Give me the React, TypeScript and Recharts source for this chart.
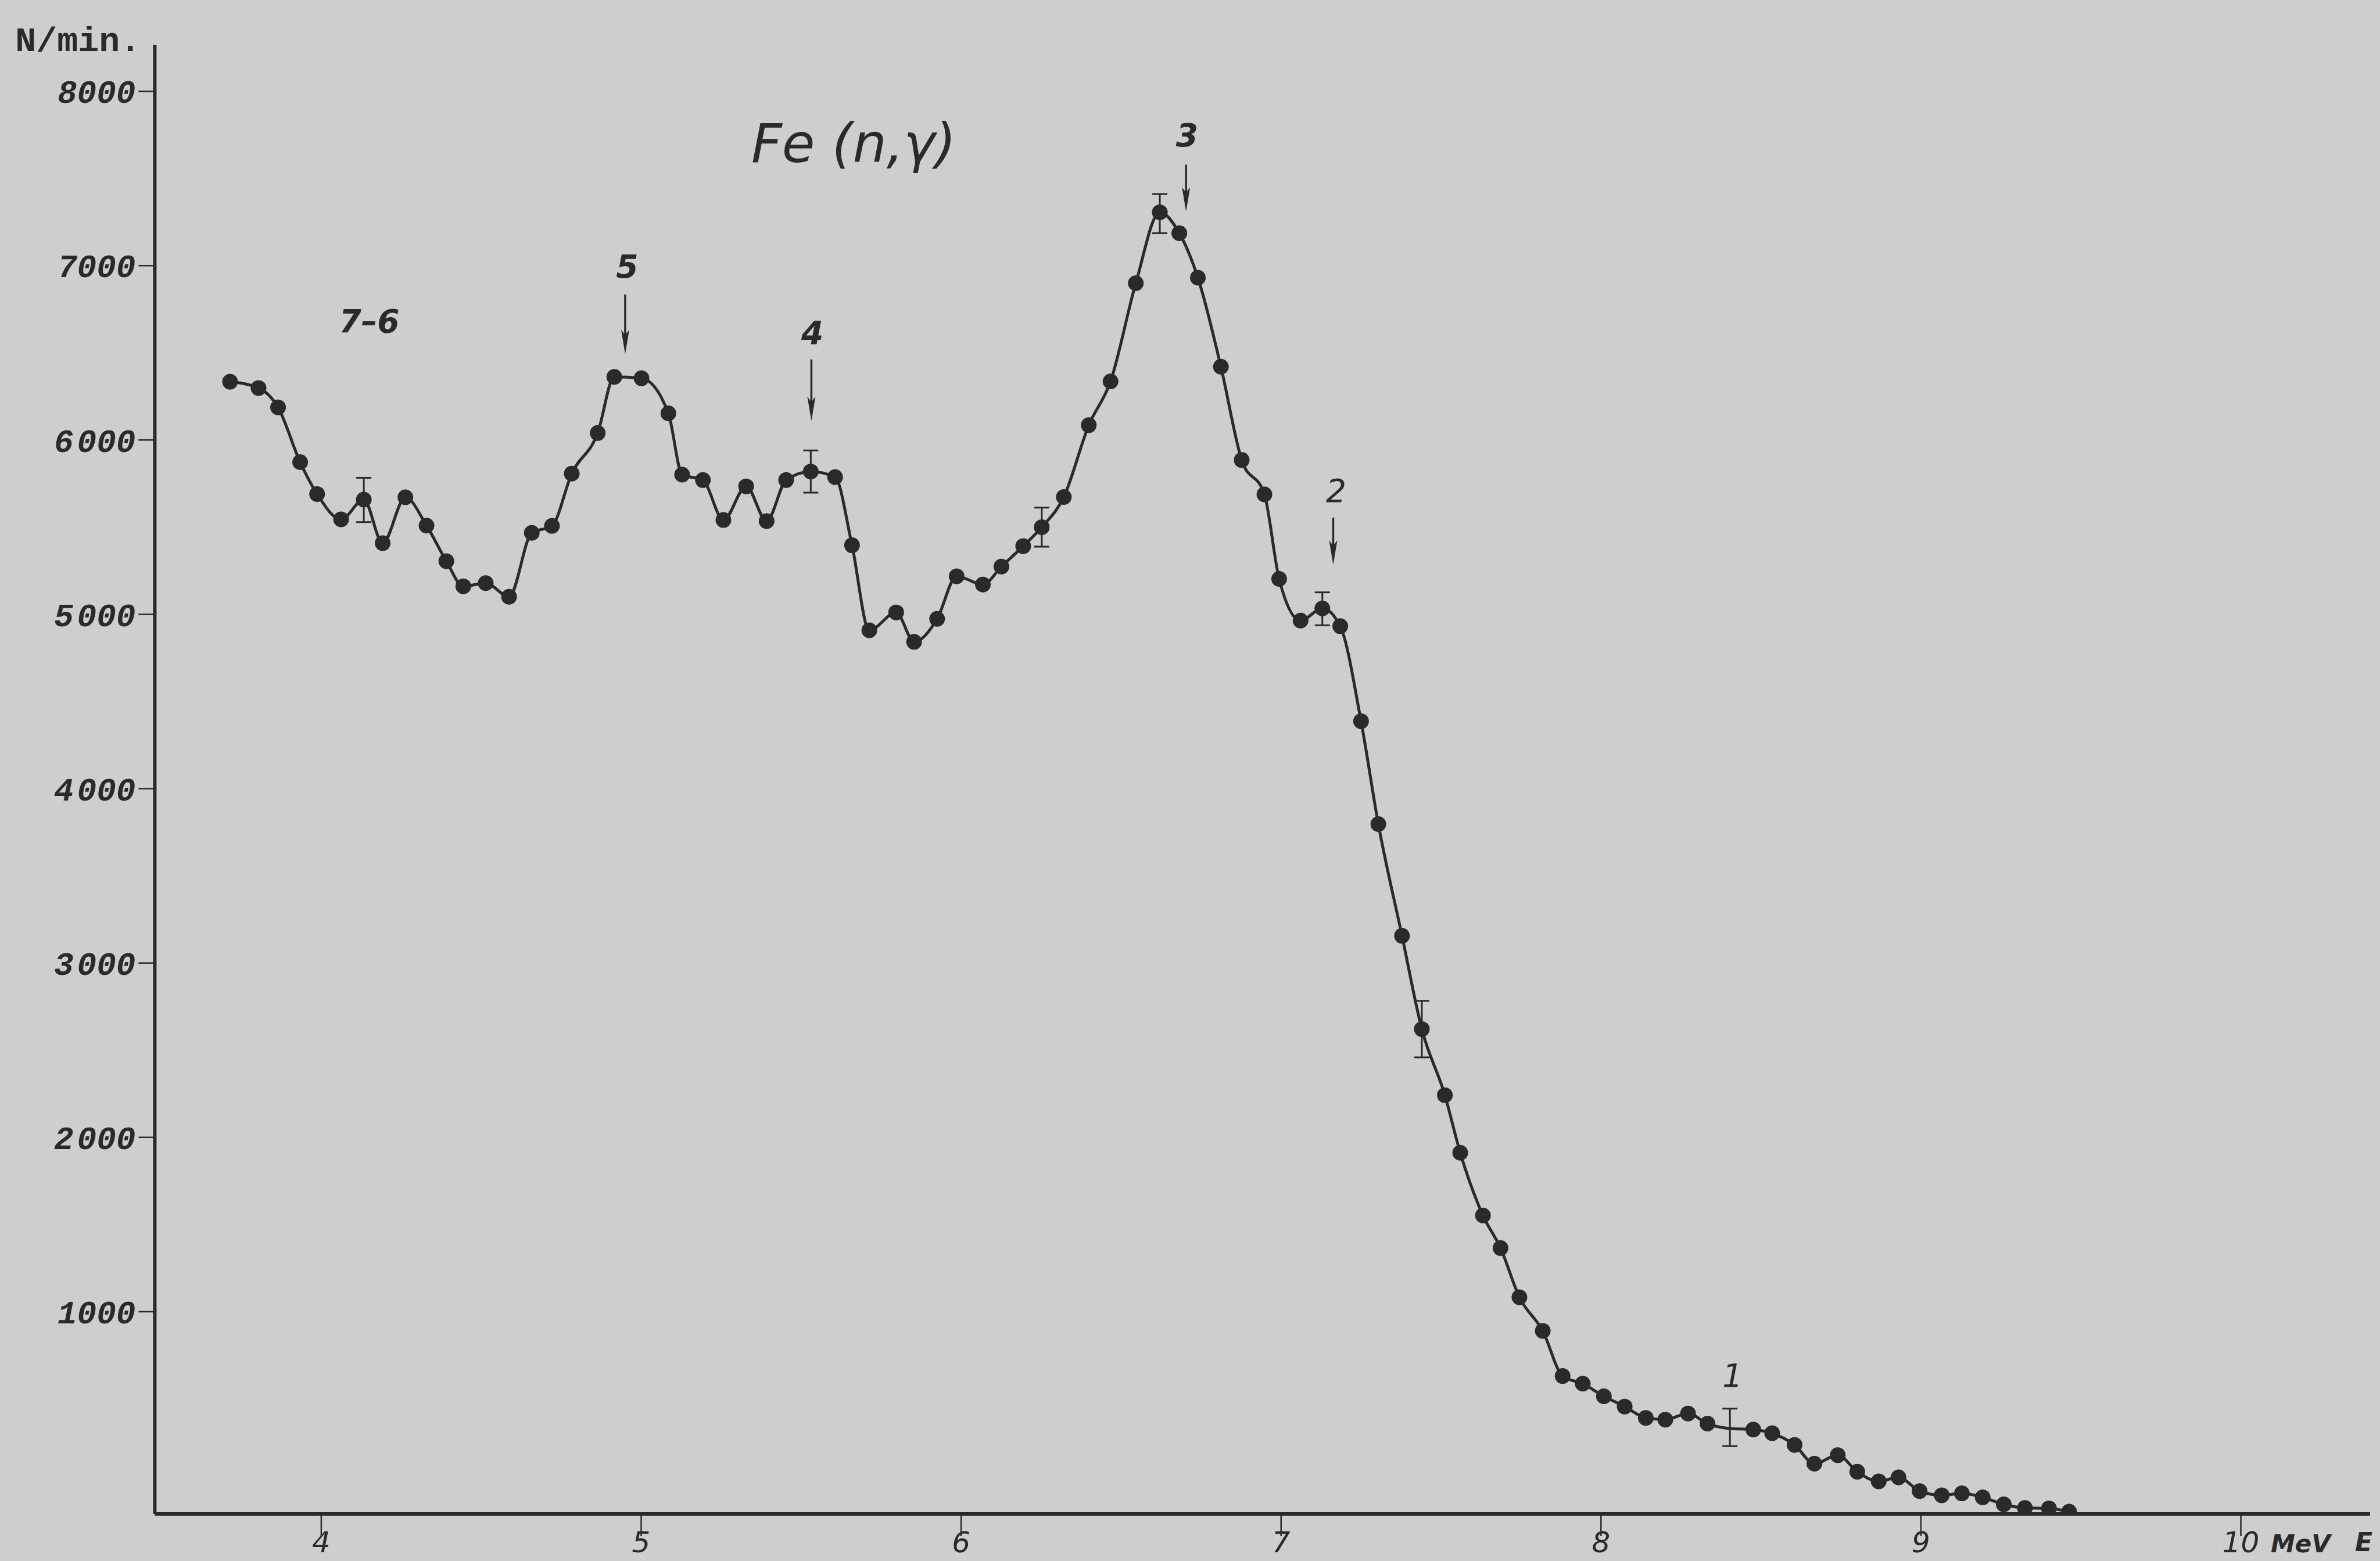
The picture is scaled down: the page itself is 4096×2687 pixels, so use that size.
import { LineChart, Line, XAxis, YAxis, ErrorBar, ReferenceLine, ReferenceDot } from "recharts";

const INK = "#2a2a2a";
const PAPER = "#cecece";

// gamma energy of each measured point, MeV
const energy = [
  3.715, 3.804, 3.865, 3.934, 3.987, 4.062, 4.133, 4.192, 4.263, 4.329,
  4.391, 4.444, 4.514, 4.587, 4.658, 4.721, 4.783, 4.864, 4.916, 5.001,
  5.085, 5.128, 5.193, 5.257, 5.328, 5.392, 5.453, 5.53, 5.606, 5.659,
  5.713, 5.797, 5.853, 5.925, 5.986, 6.068, 6.126, 6.194, 6.252, 6.321,
  6.399, 6.467, 6.546, 6.621, 6.682, 6.74, 6.812, 6.877, 6.948, 6.994,
  7.061, 7.129, 7.185, 7.25, 7.304, 7.378, 7.44, 7.512, 7.56, 7.631,
  7.686, 7.745, 7.818, 7.88, 7.943, 8.009, 8.074, 8.14, 8.201, 8.272,
  8.333, 8.403, 8.476, 8.535, 8.605, 8.667, 8.74, 8.801, 8.868, 8.93,
  8.996, 9.065, 9.128, 9.193, 9.259, 9.325, 9.4, 9.463,
];

// counting rate, N/min.
const counts = [
  6334, 6298, 6187, 5873, 5690, 5545, 5658, 5408, 5671, 5509,
  5305, 5161, 5179, 5101, 5467, 5507, 5807, 6040, 6362, 6354,
  6153, 5801, 5770, 5541, 5734, 5535, 5770, 5819, 5787, 5396,
  4908, 5011, 4842, 4974, 5218, 5171, 5274, 5391, 5500, 5673,
  6085, 6336, 6899, 7306, 7186, 6931, 6420, 5885, 5688, 5203,
  4964, 5034, 4932, 4387, 3797, 3156, 2621, 2242, 1912, 1552,
  1365, 1083, 890, 631, 587, 515, 456, 391, 381, 416,
  358, 330, 324, 303, 236, 128, 177, 82, 27, 50,
  -29, -53, -42, -65, -105, -126, -128, -147,
];

// points with an error bar
const errEnergy = [4.133, 5.53, 6.252, 6.621, 7.129, 7.44, 8.403];
const errLow = [5529, 5698, 5388, 7186, 4937, 2459, 229];
const errHigh = [5783, 5940, 5612, 7411, 5126, 2783, 444];
// error bar drawn without a dot
const noDot = [8.403];

const xTicks = [4, 5, 6, 7, 8, 9, 10];
const yTicks = [1000, 2000, 3000, 4000, 5000, 6000, 7000, 8000];
const yTickText = ["1000", "2 000", "3 000", "4 000", "5 000", "6 000", "7000", "8000"];

// numbered lines and their arrows
const lineNames = ["7–6", "5", "4", "3", "2", "1"];
const lineNameE = [4.15, 4.956, 5.535, 6.706, 7.172, 8.411];
const lineNameN = [6683, 6998, 6618, 7749, 5711, 635];
const lineNameBold = [true, true, true, true, false, false];
const arrowE = [4.95, 5.532, 6.703, 7.163];
const arrowFrom = [6834, 6462, 7579, 5555];
const arrowTo = [6493, 6109, 7310, 5284];

const data = energy.map((e, i) => {
  const j = errEnergy.indexOf(e);
  return {
    e,
    n: counts[i],
    err: j >= 0 ? [counts[i] - errLow[j], errHigh[j] - counts[i]] : undefined,
  };
});

const hand = "'DejaVu Sans', sans-serif";
const typewriter = "'Liberation Mono', 'Courier New', monospace";

const YTick = ({ x, y, payload }: any) => {
  const s = yTickText[yTicks.indexOf(payload.value)] || String(payload.value);
  const parts = s.split(" ");
  return (
    <text x={x} y={y} dy="0.36em" textAnchor="end" fill={INK} fontFamily={typewriter}
      fontWeight="bold" fontStyle="italic" fontSize={56}>
      {parts.length > 1 ? (
        <>
          <tspan>{parts[0]}</tspan>
          <tspan dx={6}>{parts[1]}</tspan>
        </>
      ) : s}
    </text>
  );
};

const XTick = ({ x, y, payload }: any) => (
  <text x={x} y={y} dy={26} textAnchor="middle" fill={INK} fontFamily={hand}
    fontStyle="italic" fontSize={50}>
    {payload.value}
  </text>
);

const Dot = (p: any) => {
  const { cx, cy, payload, index } = p;
  if (noDot.includes(payload.e)) return <g key={`d${index}`} />;
  return <circle key={`d${index}`} cx={cx} cy={cy} r={13.5} fill={INK} />;
};

const Arrow = (p: any) => {
  const top = Math.min(p.y1, p.y2);
  const tip = Math.max(p.y1, p.y2);
  const x = p.x1;
  return (
    <g>
      <line x1={x} x2={x} y1={top} y2={tip - 30} stroke={INK} strokeWidth={3.5} />
      <path d={`M${x},${tip} L${x - 7},${tip - 42} L${x},${tip - 33} L${x + 7},${tip - 42} Z`} fill={INK} />
    </g>
  );
};

export default function App() {
  return (
    <div style={{ position: "absolute", left: 0, top: 0, width: 4096, height: 2687, background: PAPER }}>
      <LineChart
        width={4096}
        height={2687}
        data={data}
        margin={{ top: 77, right: 17, left: 66.4, bottom: 21 }}
      >
        <XAxis
          dataKey="e"
          type="number"
          domain={[3.4797, 10.404]}
          allowDataOverflow
          ticks={xTicks}
          tick={<XTick />}
          tickSize={38}
          tickMargin={2}
          height={60}
          axisLine={{ stroke: INK, strokeWidth: 6 }}
          tickLine={{ stroke: INK, strokeWidth: 2.5 }}
          label={(p: any) => {
            const vb = p.viewBox;
            return (
              <g>
                <text x={vb.x + vb.width - 171} y={2672} fill={INK} fontFamily={hand}
                  fontStyle="italic" fontWeight="bold" fontSize={42}>MeV</text>
                <text x={vb.x + vb.width - 26} y={2670} fill={INK} fontFamily={hand}
                  fontStyle="italic" fontWeight="bold" fontSize={44}>E</text>
              </g>
            );
          }}
        />
        <YAxis
          type="number"
          domain={[-160, 8267]}
          allowDataOverflow
          ticks={yTicks}
          tick={<YTick />}
          tickSize={28}
          tickMargin={5}
          width={200}
          axisLine={{ stroke: INK, strokeWidth: 6 }}
          tickLine={{ stroke: INK, strokeWidth: 2.5 }}
          label={(p: any) => {
            const vb = p.viewBox;
            return (
              <text x={vb.x + vb.width - 24} y={vb.y + 11} textAnchor="end" fill={INK}
                fontFamily={typewriter} fontWeight="bold" fontSize={60}>N/min.</text>
            );
          }}
        />
        <Line
          dataKey="n"
          type="monotone"
          stroke={INK}
          strokeWidth={5}
          dot={Dot}
          activeDot={false}
          isAnimationActive={false}
        >
          <ErrorBar dataKey="err" width={13} stroke={INK} strokeWidth={3} direction="y" isAnimationActive={false} />
        </Line>
        {arrowE.map((e, i) => (
          <ReferenceLine
            key={`a${i}`}
            segment={[{ x: e, y: arrowFrom[i] }, { x: e, y: arrowTo[i] }]}
            shape={Arrow}
          />
        ))}
        {lineNames.map((t, i) => (
          <ReferenceDot
            key={`l${i}`}
            x={lineNameE[i]}
            y={lineNameN[i]}
            r={0}
            shape={(p: any) => (
              <text x={p.cx} y={p.cy} dy="0.36em" textAnchor="middle" fill={INK}
                fontFamily={hand} fontStyle="italic" fontWeight={lineNameBold[i] ? "bold" : "normal"}
                fontSize={55}>{t}</text>
            )}
          />
        ))}
        <ReferenceDot
          x={5.344}
          y={7594}
          r={0}
          shape={(p: any) => (
            <text x={p.cx} y={p.cy} fill={INK} fontFamily={hand} fontStyle="italic" fontSize={92}>
              Fe (n,γ)
            </text>
          )}
        />
      </LineChart>
    </div>
  );
}
